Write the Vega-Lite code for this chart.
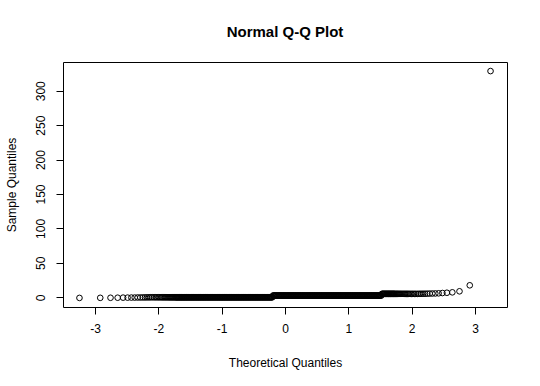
{
  "$schema": "https://vega.github.io/schema/vega-lite/v6.json",
  "width": 444,
  "height": 245,
  "autosize": "none",
  "padding": {"left": 63, "top": 62, "right": 33, "bottom": 79},
  "background": "white",
  "title": {"text": "Normal Q-Q Plot", "font": "Liberation Sans", "fontSize": 15, "fontWeight": "bold", "color": "black", "anchor": "middle", "offset": 22},
  "config": {
    "view": {"stroke": "black", "strokeWidth": 1},
    "axis": {"domain": false, "grid": false, "tickColor": "black", "tickSize": 7, "tickWidth": 1, "labelFont": "Liberation Sans", "labelFontSize": 12, "labelColor": "black", "labelPadding": 9, "titleFont": "Liberation Sans", "titleFontSize": 12, "titleFontWeight": "normal", "titleColor": "black"}
  },
  "data": {"values": [
    {"t":-3.245,"s":-0.9},{"t":-2.917,"s":-0.8},{"t":-2.755,"s":-0.7},{"t":-2.642,"s":-0.6},{"t":-2.556,"s":-0.5},{"t":-2.485,"s":-0.5},{"t":-2.425,"s":-0.4},{"t":-2.373,"s":-0.4},{"t":-2.326,"s":-0.3},{"t":-2.284,"s":-0.3},{"t":-2.246,"s":-0.2},{"t":-2.211,"s":-0.2},{"t":-2.178,"s":-0.1},{"t":-2.147,"s":-0.1},{"t":-2.119,"s":0},{"t":-2.092,"s":0},{"t":-2.066,"s":0},{"t":-2.042,"s":0},{"t":-2.019,"s":0},{"t":-1.997,"s":0},{"t":-1.975,"s":0},{"t":-1.955,"s":0},{"t":-1.935,"s":0},{"t":-1.917,"s":0},{"t":-1.898,"s":0},{"t":-1.881,"s":0},{"t":-1.864,"s":0},{"t":-1.847,"s":0},{"t":-1.831,"s":0},{"t":-1.816,"s":0},{"t":-1.801,"s":0},{"t":-1.786,"s":0},{"t":-1.772,"s":0},{"t":-1.758,"s":0},{"t":-1.744,"s":0},
    {"t":-1.73,"s":0},{"t":-1.72,"s":0},{"t":-1.71,"s":0},{"t":-1.70,"s":0},{"t":-1.69,"s":0},{"t":-1.68,"s":0},{"t":-1.67,"s":0},{"t":-1.66,"s":0},{"t":-1.65,"s":0},{"t":-1.64,"s":0},{"t":-1.63,"s":0},{"t":-1.62,"s":0},{"t":-1.61,"s":0},{"t":-1.60,"s":0},{"t":-1.59,"s":0},{"t":-1.58,"s":0},{"t":-1.57,"s":0},{"t":-1.56,"s":0},{"t":-1.55,"s":0},{"t":-1.54,"s":0},{"t":-1.53,"s":0},{"t":-1.52,"s":0},{"t":-1.51,"s":0},{"t":-1.50,"s":0},{"t":-1.49,"s":0},{"t":-1.48,"s":0},{"t":-1.47,"s":0},{"t":-1.46,"s":0},{"t":-1.45,"s":0},{"t":-1.44,"s":0},{"t":-1.43,"s":0},{"t":-1.42,"s":0},{"t":-1.41,"s":0},{"t":-1.40,"s":0},{"t":-1.39,"s":0},{"t":-1.38,"s":0},{"t":-1.37,"s":0},{"t":-1.36,"s":0},{"t":-1.35,"s":0},{"t":-1.34,"s":0},{"t":-1.33,"s":0},{"t":-1.32,"s":0},{"t":-1.31,"s":0},{"t":-1.30,"s":0},{"t":-1.29,"s":0},{"t":-1.28,"s":0},{"t":-1.27,"s":0},{"t":-1.26,"s":0},{"t":-1.25,"s":0},{"t":-1.24,"s":0},{"t":-1.23,"s":0},{"t":-1.22,"s":0},{"t":-1.21,"s":0},{"t":-1.20,"s":0},{"t":-1.19,"s":0},{"t":-1.18,"s":0},{"t":-1.17,"s":0},{"t":-1.16,"s":0},{"t":-1.15,"s":0},{"t":-1.14,"s":0},{"t":-1.13,"s":0},{"t":-1.12,"s":0},{"t":-1.11,"s":0},{"t":-1.10,"s":0},{"t":-1.09,"s":0},{"t":-1.08,"s":0},{"t":-1.07,"s":0},{"t":-1.06,"s":0},{"t":-1.05,"s":0},{"t":-1.04,"s":0},{"t":-1.03,"s":0},{"t":-1.02,"s":0},{"t":-1.01,"s":0},{"t":-1.00,"s":0},{"t":-0.99,"s":0},{"t":-0.98,"s":0},{"t":-0.97,"s":0},{"t":-0.96,"s":0},{"t":-0.95,"s":0},{"t":-0.94,"s":0},{"t":-0.93,"s":0},{"t":-0.92,"s":0},{"t":-0.91,"s":0},{"t":-0.90,"s":0},{"t":-0.89,"s":0},{"t":-0.88,"s":0},{"t":-0.87,"s":0},{"t":-0.86,"s":0},{"t":-0.85,"s":0},{"t":-0.84,"s":0},{"t":-0.83,"s":0},{"t":-0.82,"s":0},{"t":-0.81,"s":0},{"t":-0.80,"s":0},{"t":-0.79,"s":0},{"t":-0.78,"s":0},{"t":-0.77,"s":0},{"t":-0.76,"s":0},{"t":-0.75,"s":0},{"t":-0.74,"s":0},{"t":-0.73,"s":0},{"t":-0.72,"s":0},{"t":-0.71,"s":0},{"t":-0.70,"s":0},{"t":-0.69,"s":0},{"t":-0.68,"s":0},{"t":-0.67,"s":0},{"t":-0.66,"s":0},{"t":-0.65,"s":0},{"t":-0.64,"s":0},{"t":-0.63,"s":0},{"t":-0.62,"s":0},{"t":-0.61,"s":0},{"t":-0.60,"s":0},{"t":-0.59,"s":0},{"t":-0.58,"s":0},{"t":-0.57,"s":0},{"t":-0.56,"s":0},{"t":-0.55,"s":0},{"t":-0.54,"s":0},{"t":-0.53,"s":0},{"t":-0.52,"s":0},{"t":-0.51,"s":0},{"t":-0.50,"s":0},{"t":-0.49,"s":0},{"t":-0.48,"s":0},{"t":-0.47,"s":0},{"t":-0.46,"s":0},{"t":-0.45,"s":0},{"t":-0.44,"s":0},{"t":-0.43,"s":0},{"t":-0.42,"s":0},{"t":-0.41,"s":0},{"t":-0.40,"s":0},{"t":-0.39,"s":0},{"t":-0.38,"s":0},{"t":-0.37,"s":0},{"t":-0.36,"s":0},{"t":-0.35,"s":0},{"t":-0.34,"s":0},{"t":-0.33,"s":0},{"t":-0.32,"s":0},{"t":-0.31,"s":0},{"t":-0.30,"s":0},{"t":-0.29,"s":0},{"t":-0.28,"s":0},{"t":-0.27,"s":0},{"t":-0.26,"s":0},{"t":-0.25,"s":0},{"t":-0.24,"s":0},{"t":-0.23,"s":0},{"t":-0.22,"s":0},{"t":-0.21,"s":0},{"t":-0.20,"s":0},
    {"t":-0.19,"s":2.5},{"t":-0.18,"s":2.5},{"t":-0.17,"s":2.5},{"t":-0.16,"s":2.5},{"t":-0.15,"s":2.5},{"t":-0.14,"s":2.5},{"t":-0.13,"s":2.5},{"t":-0.12,"s":2.5},{"t":-0.11,"s":2.5},{"t":-0.10,"s":2.5},{"t":-0.09,"s":2.5},{"t":-0.08,"s":2.5},{"t":-0.07,"s":2.5},{"t":-0.06,"s":2.5},{"t":-0.05,"s":2.5},{"t":-0.04,"s":2.5},{"t":-0.03,"s":2.5},{"t":-0.02,"s":2.5},{"t":-0.01,"s":2.5},{"t":0.00,"s":2.5},{"t":0.01,"s":2.5},{"t":0.02,"s":2.5},{"t":0.03,"s":2.5},{"t":0.04,"s":2.5},{"t":0.05,"s":2.5},{"t":0.06,"s":2.5},{"t":0.07,"s":2.5},{"t":0.08,"s":2.5},{"t":0.09,"s":2.5},{"t":0.10,"s":2.5},{"t":0.11,"s":2.5},{"t":0.12,"s":2.5},{"t":0.13,"s":2.5},{"t":0.14,"s":2.5},{"t":0.15,"s":2.5},{"t":0.16,"s":2.5},{"t":0.17,"s":2.5},{"t":0.18,"s":2.5},{"t":0.19,"s":2.5},{"t":0.20,"s":2.5},{"t":0.21,"s":2.5},{"t":0.22,"s":2.5},{"t":0.23,"s":2.5},{"t":0.24,"s":2.5},{"t":0.25,"s":2.5},{"t":0.26,"s":2.5},{"t":0.27,"s":2.5},{"t":0.28,"s":2.5},{"t":0.29,"s":2.5},{"t":0.30,"s":2.5},{"t":0.31,"s":2.5},{"t":0.32,"s":2.5},{"t":0.33,"s":2.5},{"t":0.34,"s":2.5},{"t":0.35,"s":2.5},{"t":0.36,"s":2.5},{"t":0.37,"s":2.5},{"t":0.38,"s":2.5},{"t":0.39,"s":2.5},{"t":0.40,"s":2.5},{"t":0.41,"s":2.5},{"t":0.42,"s":2.5},{"t":0.43,"s":2.5},{"t":0.44,"s":2.5},{"t":0.45,"s":2.5},{"t":0.46,"s":2.5},{"t":0.47,"s":2.5},{"t":0.48,"s":2.5},{"t":0.49,"s":2.5},{"t":0.50,"s":2.5},{"t":0.51,"s":2.5},{"t":0.52,"s":2.5},{"t":0.53,"s":2.5},{"t":0.54,"s":2.5},{"t":0.55,"s":2.5},{"t":0.56,"s":2.5},{"t":0.57,"s":2.5},{"t":0.58,"s":2.5},{"t":0.59,"s":2.5},{"t":0.60,"s":2.5},{"t":0.61,"s":2.5},{"t":0.62,"s":2.5},{"t":0.63,"s":2.5},{"t":0.64,"s":2.5},{"t":0.65,"s":2.5},{"t":0.66,"s":2.5},{"t":0.67,"s":2.5},{"t":0.68,"s":2.5},{"t":0.69,"s":2.5},{"t":0.70,"s":2.5},{"t":0.71,"s":2.5},{"t":0.72,"s":2.5},{"t":0.73,"s":2.5},{"t":0.74,"s":2.5},{"t":0.75,"s":2.5},{"t":0.76,"s":2.5},{"t":0.77,"s":2.5},{"t":0.78,"s":2.5},{"t":0.79,"s":2.5},{"t":0.80,"s":2.5},{"t":0.81,"s":2.5},{"t":0.82,"s":2.5},{"t":0.83,"s":2.5},{"t":0.84,"s":2.5},{"t":0.85,"s":2.5},{"t":0.86,"s":2.5},{"t":0.87,"s":2.5},{"t":0.88,"s":2.5},{"t":0.89,"s":2.5},{"t":0.90,"s":2.5},{"t":0.91,"s":2.5},{"t":0.92,"s":2.5},{"t":0.93,"s":2.5},{"t":0.94,"s":2.5},{"t":0.95,"s":2.5},{"t":0.96,"s":2.5},{"t":0.97,"s":2.5},{"t":0.98,"s":2.5},{"t":0.99,"s":2.5},{"t":1.00,"s":2.5},{"t":1.01,"s":2.5},{"t":1.02,"s":2.5},{"t":1.03,"s":2.5},{"t":1.04,"s":2.5},{"t":1.05,"s":2.5},{"t":1.06,"s":2.5},{"t":1.07,"s":2.5},{"t":1.08,"s":2.5},{"t":1.09,"s":2.5},{"t":1.10,"s":2.5},{"t":1.11,"s":2.5},{"t":1.12,"s":2.5},{"t":1.13,"s":2.5},{"t":1.14,"s":2.5},{"t":1.15,"s":2.5},{"t":1.16,"s":2.5},{"t":1.17,"s":2.5},{"t":1.18,"s":2.5},{"t":1.19,"s":2.5},{"t":1.20,"s":2.5},{"t":1.21,"s":2.5},{"t":1.22,"s":2.5},{"t":1.23,"s":2.5},{"t":1.24,"s":2.5},{"t":1.25,"s":2.5},{"t":1.26,"s":2.5},{"t":1.27,"s":2.5},{"t":1.28,"s":2.5},{"t":1.29,"s":2.5},{"t":1.30,"s":2.5},{"t":1.31,"s":2.5},{"t":1.32,"s":2.5},{"t":1.33,"s":2.5},{"t":1.34,"s":2.5},{"t":1.35,"s":2.5},{"t":1.36,"s":2.5},{"t":1.37,"s":2.5},{"t":1.38,"s":2.5},{"t":1.39,"s":2.5},{"t":1.40,"s":2.5},{"t":1.41,"s":2.5},{"t":1.42,"s":2.5},{"t":1.43,"s":2.5},{"t":1.44,"s":2.5},{"t":1.45,"s":2.5},{"t":1.46,"s":2.5},{"t":1.47,"s":2.5},{"t":1.48,"s":2.5},{"t":1.49,"s":2.5},{"t":1.50,"s":2.5},{"t":1.51,"s":2.5},{"t":1.52,"s":2.5},
    {"t":1.53,"s":5},{"t":1.54,"s":5},{"t":1.55,"s":5},{"t":1.56,"s":5},{"t":1.57,"s":5},{"t":1.58,"s":5},{"t":1.59,"s":5},{"t":1.60,"s":5},{"t":1.61,"s":5},{"t":1.62,"s":5},{"t":1.63,"s":5},{"t":1.64,"s":5},{"t":1.65,"s":5},{"t":1.66,"s":5},{"t":1.67,"s":5},{"t":1.68,"s":5},{"t":1.69,"s":5},{"t":1.70,"s":5},{"t":1.71,"s":5},{"t":1.72,"s":5},{"t":1.73,"s":5},
    {"t":1.744,"s":5},{"t":1.758,"s":5},{"t":1.772,"s":5},{"t":1.786,"s":5},{"t":1.801,"s":5},{"t":1.816,"s":5},{"t":1.831,"s":5},{"t":1.847,"s":5},{"t":1.864,"s":5},{"t":1.881,"s":5},{"t":1.898,"s":5},{"t":1.917,"s":5},{"t":1.935,"s":5},{"t":1.955,"s":5},{"t":1.975,"s":5},{"t":1.997,"s":5},{"t":2.019,"s":5},{"t":2.042,"s":5},{"t":2.066,"s":5},{"t":2.092,"s":5},{"t":2.119,"s":5.1},{"t":2.147,"s":5.1},{"t":2.178,"s":5.2},{"t":2.211,"s":5.2},{"t":2.246,"s":5.3},{"t":2.284,"s":5.4},{"t":2.326,"s":5.5},{"t":2.373,"s":5.6},{"t":2.425,"s":5.8},{"t":2.485,"s":6.2},{"t":2.556,"s":6.6},{"t":2.642,"s":7.2},{"t":2.755,"s":8.7},{"t":2.917,"s":17.4},{"t":3.245,"s":328.5}
  ]},
  "mark": {"type": "point", "filled": false, "color": "black", "size": 32, "strokeWidth": 1, "opacity": 1},
  "encoding": {
    "x": {"field": "t", "type": "quantitative", "scale": {"domain": [-3.505, 3.505], "nice": false, "zero": false},
      "axis": {"title": "Theoretical Quantiles", "values": [-3, -2, -1, 0, 1, 2, 3], "labelExpr": "'' + datum.value", "titlePadding": 23}},
    "y": {"field": "s", "type": "quantitative", "scale": {"domain": [-14.1, 341.7], "nice": false, "zero": false},
      "axis": {"title": "Sample Quantiles", "values": [0, 50, 100, 150, 200, 250, 300], "labelAngle": 270, "labelAlign": "center", "labelBaseline": "bottom", "titlePadding": 16}}
  }
}
